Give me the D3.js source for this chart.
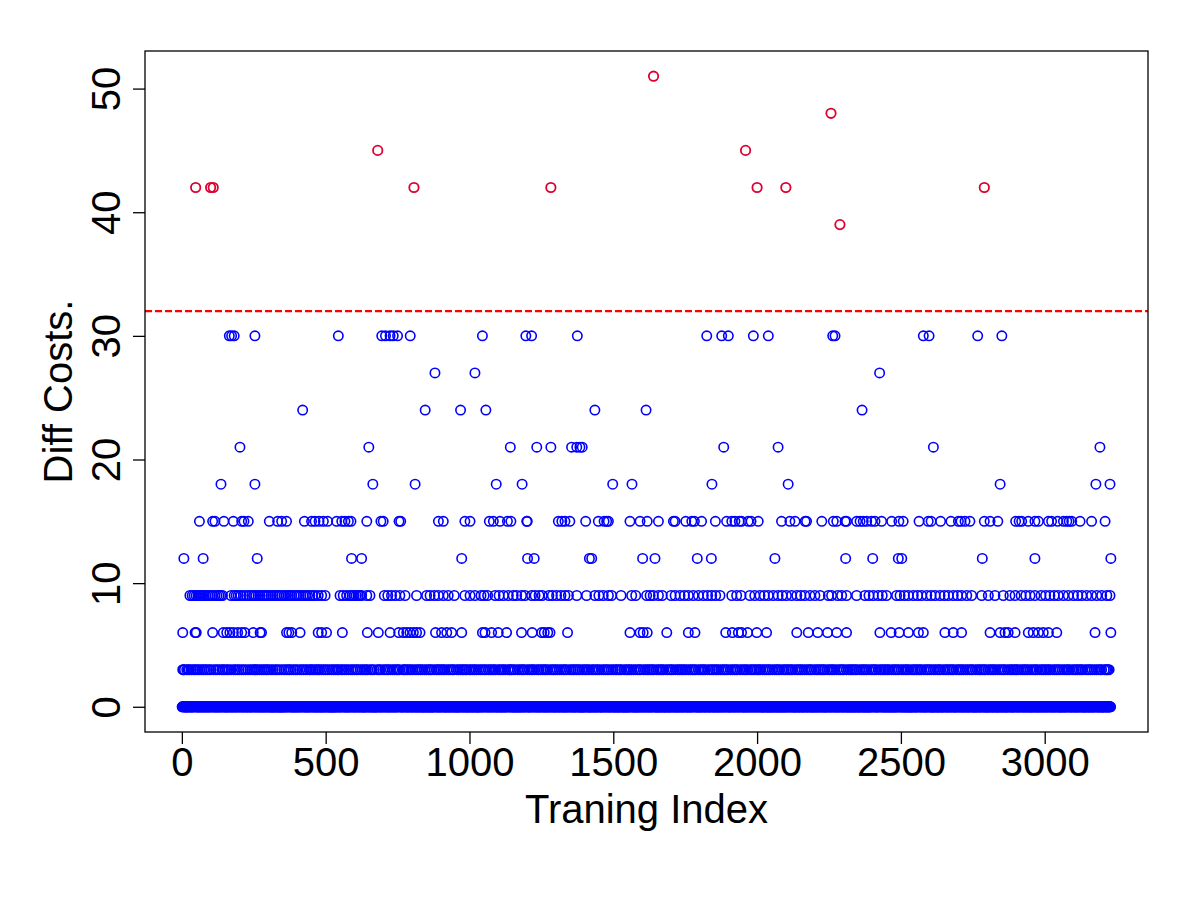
<!DOCTYPE html>
<html><head><meta charset="utf-8">
<script src="https://cdn.jsdelivr.net/npm/d3@7"></script>
<style>
body{margin:0;background:#fff}
svg{display:block}
text{font-family:"Liberation Sans",Arial,Helvetica,sans-serif;fill:#000}
</style>
</head><body>
<svg id="chart" width="1200" height="900"></svg>
<script>
// ---------------- data ----------------
const nIndex = 3230;            // training indices 1..nIndex, value 0 unless listed below
const threshold = 32;           // red dashed line
const xTicks = [0, 500, 1000, 1500, 2000, 2500, 3000];
const yTicks = [0, 10, 20, 30, 40, 50];
const xTitle = "Traning Index";
const yTitle = "Diff Costs.";

// outliers above threshold (drawn in red)
const outlierIdx = [48, 100, 109, 681, 807, 1283, 1640, 1960, 2000, 2100, 2257, 2288, 2790];
const outlierVal = [42, 42, 42, 45, 42, 42, 51, 45, 42, 42, 48, 39, 42];

// indices per cost level (blue)
const idx30 = [165, 173, 182, 254, 544, 695, 708, 724, 735, 750, 794, 1045, 1196, 1216, 1375,
  1825, 1877, 1900, 1987, 2039, 2263, 2271, 2578, 2598, 2767, 2851];
const idx27 = [880, 1019, 2426];
const idx24 = [420, 846, 969, 1057, 1436, 1614, 2365];
const idx21 = [202, 650, 1142, 1234, 1283, 1355, 1373, 1384, 1392, 1884, 2073, 2613, 3192];
const idx18 = [136, 254, 664, 811, 1093, 1183, 1498, 1565, 1843, 2108, 2845, 3178, 3227];
const idx15 = [61, 107, 115, 146, 179, 208, 216, 231, 304, 333, 347, 364, 426, 451, 463, 477, 492,
  507, 538, 556, 567, 579, 588, 643, 692, 700, 755, 761, 892, 909, 984, 1002, 1069, 1083, 1106,
  1132, 1144, 1199, 1201, 1309, 1321, 1332, 1349, 1404, 1448, 1468, 1477, 1483, 1558, 1593, 1618,
  1657, 1709, 1715, 1752, 1773, 1782, 1807, 1855, 1894, 1912, 1923, 1938, 1946, 1969, 1979, 2004,
  2085, 2114, 2132, 2167, 2172, 2225, 2265, 2277, 2306, 2311, 2346, 2358, 2369, 2381, 2398, 2410,
  2433, 2468, 2493, 2508, 2563, 2595, 2605, 2638, 2674, 2700, 2709, 2723, 2740, 2790, 2810, 2837,
  2899, 2911, 2920, 2943, 2966, 2978, 3013, 3024, 3045, 3065, 3077, 3085, 3094, 3123, 3163, 3210];
const idx12 = [7, 74, 262, 590, 625, 973, 1202, 1225, 1417, 1425, 1602, 1645, 1792, 1841, 2062,
  2308, 2402, 2491, 2503, 2783, 2966, 3230];
const idx9 = [28, 36, 43, 50, 57, 63, 69, 76, 83, 91, 98, 106, 115, 122, 129, 135, 141, 171, 182,
  189, 196, 205, 214, 225, 234, 243, 250, 257, 265, 272, 280, 287, 294, 301, 310, 317, 324, 331,
  338, 347, 356, 363, 370, 376, 382, 391, 399, 407, 414, 422, 430, 437, 445, 454, 463, 474, 486,
  498, 550, 561, 573, 584, 592, 599, 606, 613, 619, 625, 643, 654, 704, 716, 729, 743, 758, 776,
  816, 851, 863, 878, 892, 909, 926, 947, 984,
  1002, 1019, 1040, 1051, 1063, 1089, 1103, 1118, 1135, 1152, 1164, 1181, 1193, 1216, 1228, 1242,
  1253, 1276, 1288, 1303, 1318, 1332, 1344, 1373, 1407, 1436, 1450, 1465, 1483, 1494, 1527, 1564,
  1578, 1616, 1628, 1639, 1657, 1670, 1701, 1715, 1732, 1747, 1761, 1778, 1796, 1813, 1828, 1842,
  1856, 1871, 1912, 1929, 1944, 1975, 1992, 2010, 2025, 2039, 2056, 2073, 2087, 2102, 2120, 2138,
  2152, 2166, 2184, 2201, 2219, 2248, 2259, 2280, 2294, 2311, 2346, 2375, 2389, 2404, 2421, 2435,
  2450, 2485, 2497, 2512, 2526, 2543, 2558, 2572, 2590, 2605, 2619, 2636, 2651, 2665, 2682, 2697,
  2711, 2729, 2746, 2781, 2804, 2827, 2856, 2879, 2897, 2918, 2934, 2949, 2966, 2987, 3003, 3018,
  3033, 3047, 3065, 3082, 3100, 3115, 3129, 3146, 3163, 3181, 3198, 3216, 3227];
const idx6 = [3, 46, 50, 107, 144, 156, 167, 179, 194, 208, 219, 248, 272, 277, 364, 372, 382, 411,
  474, 486, 503, 558, 645, 683, 724, 754, 770, 782, 793, 805, 816, 828, 882, 903, 921, 938, 973,
  1045, 1054, 1077, 1100, 1129, 1181, 1218, 1251, 1260, 1272, 1280, 1341, 1558, 1593, 1604, 1618,
  1686, 1761, 1784, 1891, 1914, 1935, 1946, 1967, 1999, 2033, 2138, 2178, 2211, 2245, 2277, 2311,
  2427, 2466, 2494, 2526, 2561, 2578, 2653, 2682, 2711, 2810, 2845, 2862, 2873, 2897, 2943, 2960,
  2978, 2995, 3013, 3042, 3175, 3230];
const idx3 = [3, 6, 9, 17, 22, 26, 33, 40, 45, 51, 57, 63, 70, 76, 82, 88, 95, 101, 110, 118, 124,
  131, 139, 144, 150, 157, 163, 171, 180, 186, 193, 199, 207, 214, 221, 230, 238, 245, 252, 257,
  263, 270, 277, 284, 290, 296, 302, 310, 317, 325, 331, 338, 347, 355, 362, 369, 374, 380, 388,
  395, 401, 410, 417, 423, 430, 436, 444, 449, 455, 462, 468, 474, 479, 486, 493, 499, 506, 513,
  521, 527, 534, 540, 545, 553, 559, 566, 573, 580, 588, 594, 601, 607, 612, 620, 627, 634, 640,
  646, 655, 661, 668, 679, 685, 690, 699, 706, 713, 718, 725, 733, 739, 746, 751, 757, 769, 773,
  778, 784, 790, 796, 803, 811, 818, 824, 830, 836, 844, 851, 858, 863, 869, 877, 885, 890, 896,
  902, 908, 913, 921, 928, 935, 941, 946, 955, 962, 968, 975, 980, 986, 991, 999, 1005, 1012, 1018,
  1024, 1032, 1039, 1046, 1052, 1058, 1066, 1072, 1079, 1085, 1091, 1100, 1106, 1113, 1119, 1125,
  1134, 1140, 1146, 1152, 1158, 1167, 1174, 1181, 1186, 1192, 1201, 1208, 1215, 1220, 1226, 1235,
  1241, 1248, 1254, 1260, 1265, 1271, 1280, 1287, 1293, 1299, 1305, 1313, 1320, 1327, 1332, 1338,
  1347, 1354, 1360, 1366, 1372, 1378, 1384, 1392, 1399, 1405, 1411, 1417, 1426, 1432, 1439, 1445,
  1451, 1460, 1467, 1473, 1479, 1485, 1493, 1500, 1507, 1512, 1518, 1524, 1529, 1538, 1545, 1551,
  1557, 1563, 1571, 1578, 1585, 1591, 1596, 1605, 1612, 1618, 1624, 1630, 1636, 1641, 1650, 1657,
  1663, 1669, 1674, 1683, 1690, 1697, 1702, 1708, 1717, 1724, 1730, 1736, 1742, 1748, 1754, 1762,
  1769, 1775, 1781, 1787, 1796, 1803, 1809, 1815, 1820, 1829, 1836, 1843, 1848, 1855, 1860, 1866,
  1874, 1881, 1887, 1893, 1899, 1908, 1915, 1921, 1927, 1932, 1941, 1948, 1955, 1961, 1967, 1976,
  1982, 1988, 1994, 2000, 2006, 2011, 2020, 2027, 2033, 2039, 2045, 2053, 2061, 2067, 2073, 2078,
  2087, 2094, 2100, 2106, 2112, 2118, 2123, 2132, 2139, 2145, 2151, 2157, 2165, 2172, 2179, 2185,
  2190, 2199, 2206, 2212, 2218, 2224, 2230, 2235, 2244, 2251, 2257, 2263, 2269, 2277, 2285, 2291,
  2297, 2302, 2311, 2318, 2324, 2330, 2336, 2342, 2347, 2356, 2363, 2369, 2375, 2381, 2389, 2397,
  2403, 2409, 2414, 2423, 2430, 2436, 2442, 2448, 2454, 2459, 2468, 2475, 2481, 2487, 2493, 2501,
  2508, 2515, 2521, 2526, 2535, 2542, 2548, 2554, 2560, 2566, 2571, 2580, 2587, 2593, 2599, 2605,
  2613, 2620, 2627, 2633, 2638, 2647, 2654, 2660, 2666, 2672, 2678, 2683, 2692, 2699, 2705, 2711,
  2717, 2725, 2732, 2739, 2745, 2750, 2759, 2766, 2772, 2778, 2784, 2790, 2795, 2804, 2811, 2817,
  2823, 2829, 2837, 2844, 2851, 2857, 2862, 2871, 2878, 2884, 2890, 2896, 2902, 2907, 2916, 2923,
  2929, 2935, 2941, 2949, 2956, 2963, 2969, 2974, 2983, 2990, 2996, 3002, 3008, 3014, 3019, 3028,
  3035, 3041, 3047, 3053, 3061, 3068, 3075, 3081, 3086, 3095, 3102, 3108, 3114, 3120, 3126, 3131,
  3140, 3147, 3153, 3159, 3165, 3173, 3180, 3187, 3193, 3198, 3207, 3212, 3216, 3220, 3224];

// ---------------- build table ----------------
const levels = [[30, idx30], [27, idx27], [24, idx24], [21, idx21], [18, idx18], [15, idx15],
  [12, idx12], [9, idx9], [6, idx6], [3, idx3]];
const cost = new Map();
levels.forEach(([v, arr]) => arr.forEach(i => { if (!cost.has(i)) cost.set(i, v); }));
outlierIdx.forEach((i, k) => cost.set(i, outlierVal[k]));
const points = [];
for (let i = 1; i <= nIndex; i++) points.push({i, v: cost.has(i) ? cost.get(i) : 0});
// extra points where two levels share an index
levels.forEach(([v, arr]) => arr.forEach(i => { if (cost.get(i) !== v) points.push({i, v}); }));

// ---------------- layout ----------------
const box = {left: 145, right: 1148, top: 51, bottom: 732};
const svg = d3.select("#chart");
const xMin = 1, xMax = nIndex, xPad = 0.04 * (xMax - xMin);
const yMin = 0, yMax = d3.max(points, d => d.v), yPad = 0.04 * (yMax - yMin);
const x = d3.scaleLinear().domain([xMin - xPad, xMax + xPad]).range([box.left, box.right]);
const y = d3.scaleLinear().domain([yMin - yPad, yMax + yPad]).range([box.bottom, box.top]);

const fs = 40;

// points
const blue = points.filter(d => d.v <= threshold);
const red = points.filter(d => d.v > threshold);
svg.append("g").selectAll("circle").data(blue).join("circle")
  .attr("cx", d => x(d.i)).attr("cy", d => y(d.v)).attr("r", 4.7)
  .attr("fill", "none").attr("stroke", "#0000ff").attr("stroke-width", 1.6);
svg.append("g").selectAll("circle").data(red).join("circle")
  .attr("cx", d => x(d.i)).attr("cy", d => y(d.v)).attr("r", 4.7)
  .attr("fill", "none").attr("stroke", "#dd0030").attr("stroke-width", 1.8);

// threshold line
svg.append("line")
  .attr("x1", box.left).attr("x2", box.right)
  .attr("y1", y(threshold)).attr("y2", y(threshold))
  .attr("stroke", "#ff0000").attr("stroke-width", 2.2).attr("stroke-dasharray", "7,3");

// box
svg.append("rect").attr("x", box.left).attr("y", box.top)
  .attr("width", box.right - box.left).attr("height", box.bottom - box.top)
  .attr("fill", "none").attr("stroke", "#000").attr("stroke-width", 1.3);

// x axis
const gx = svg.append("g").attr("transform", `translate(0,${box.bottom})`)
  .call(d3.axisBottom(x).tickValues(xTicks).tickSize(12).tickFormat(d3.format("d")));
gx.select(".domain").remove();
gx.selectAll(".tick line").attr("stroke", "#000").attr("stroke-width", 1.3);
gx.selectAll(".tick text").attr("y", 44).attr("dy", 0)
  .style("font-size", fs + "px").style("font-family", "'Liberation Sans',Arial,sans-serif").attr("fill", "#000");

// y axis
const gy = svg.append("g").attr("transform", `translate(${box.left},0)`)
  .call(d3.axisLeft(y).tickValues(yTicks).tickSize(12).tickFormat(d3.format("d")));
gy.select(".domain").remove();
gy.selectAll(".tick line").attr("stroke", "#000").attr("stroke-width", 1.3);
gy.selectAll(".tick text").attr("x", 0).attr("y", 0).attr("dy", 0)
  .attr("text-anchor", "middle").attr("transform", "translate(-25,0) rotate(-90)")
  .style("font-size", fs + "px").style("font-family", "'Liberation Sans',Arial,sans-serif").attr("fill", "#000");

// titles
svg.append("text").attr("x", (box.left + box.right) / 2).attr("y", 823)
  .attr("text-anchor", "middle").style("font-size", fs + "px").text(xTitle);
svg.append("text").attr("transform", `translate(72,${(box.top + box.bottom) / 2}) rotate(-90)`)
  .attr("text-anchor", "middle").style("font-size", fs + "px").text(yTitle);
</script>
</body></html>
